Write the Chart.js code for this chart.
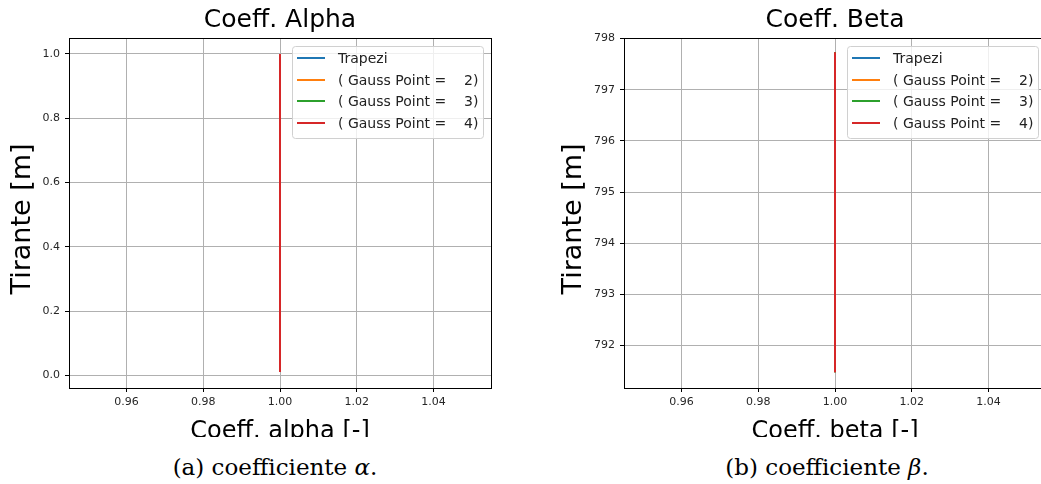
<!DOCTYPE html>
<html>
<head>
<meta charset="utf-8">
<script src="https://cdn.jsdelivr.net/npm/chart.js@4.4.1/dist/chart.umd.min.js"></script>
<style>
body { margin: 0; background: #fff; width: 1041px; height: 484px; overflow: hidden; position: relative; }
.panel { position: absolute; top: 0; height: 437px; overflow: hidden; }
.panel canvas { display: block; }
.caption { position: absolute; top: 456px; width: 400px; text-align: center; font-family: "DejaVu Serif", serif; font-size: 23px; line-height: 1; color: #000; }
</style>
</head>
<body>
<div class="panel" style="left:0;width:500px"><canvas id="alphaChart" width="500" height="460"></canvas></div>
<div class="panel" style="left:540px;width:501px"><canvas id="betaChart" width="510" height="460"></canvas></div>
<div class="caption" style="left:75px">(a) coefficiente <i>α</i>.</div>
<div class="caption" style="left:627px">(b) coefficiente <i>β</i>.</div>
<script>
// Series shared by both panels
const seriesLabels = ["Trapezi", "( Gauss Point =    2)", "( Gauss Point =    3)", "( Gauss Point =    4)"];
const seriesColors = ["#1f77b4", "#ff7f0e", "#2ca02c", "#d62728"];

// Coeff. Alpha panel
const tiranteAlpha = [0.01, 0.2, 0.4, 0.6, 0.8, 1.0];
const alphaTrapezi = [1.0, 1.0, 1.0, 1.0, 1.0, 1.0];
const alphaGauss2 = [1.0, 1.0, 1.0, 1.0, 1.0, 1.0];
const alphaGauss3 = [1.0, 1.0, 1.0, 1.0, 1.0, 1.0];
const alphaGauss4 = [1.0, 1.0, 1.0, 1.0, 1.0, 1.0];
const alphaXTicks = [0.96, 0.98, 1.00, 1.02, 1.04];
const alphaYTicks = [0.0, 0.2, 0.4, 0.6, 0.8, 1.0];

// Coeff. Beta panel
const tiranteBeta = [791.48, 792.5, 793.5, 794.5, 795.5, 796.5, 797.73];
const betaTrapezi = [1.0, 1.0, 1.0, 1.0, 1.0, 1.0, 1.0];
const betaGauss2 = [1.0, 1.0, 1.0, 1.0, 1.0, 1.0, 1.0];
const betaGauss3 = [1.0, 1.0, 1.0, 1.0, 1.0, 1.0, 1.0];
const betaGauss4 = [1.0, 1.0, 1.0, 1.0, 1.0, 1.0, 1.0];
const betaXTicks = [0.96, 0.98, 1.00, 1.02, 1.04];
const betaYTicks = [792, 793, 794, 795, 796, 797, 798];

Chart.defaults.font.family = "'DejaVu Sans', sans-serif";

// same rounding Chart.js uses for 1px lines
const crisp = p => Math.round(p - 0.5) + 0.5;

// Legend drawn inside the plot, upper right (matplotlib style)
const insideLegend = {
    id: "insideLegend",
    afterDatasetsDraw(chart) {
        const ctx = chart.ctx;
        const area = chart.chartArea;
        const sets = chart.data.datasets;
        ctx.save();
        ctx.font = "14px 'DejaVu Sans'";
        const textW = Math.max(...sets.map(d => ctx.measureText(d.label).width));
        const w = Math.round(5 + 28 + 13 + textW + 5);
        const h = 92;
        const x0 = Math.round(area.right - 8 - w);
        const y0 = Math.round(area.top + 8);

        ctx.beginPath();
        ctx.roundRect(x0 + 0.5, y0 + 0.5, w, h, 3);
        ctx.fillStyle = "rgba(255,255,255,0.8)";
        ctx.fill();
        ctx.strokeStyle = "#d0d0d0";
        ctx.lineWidth = 1;
        ctx.stroke();

        sets.forEach((d, i) => {
            const y = Math.round(y0 + 12 + i * 21.7);
            ctx.strokeStyle = d.borderColor;
            ctx.lineWidth = 2;
            ctx.beginPath();
            ctx.moveTo(x0 + 5, y);
            ctx.lineTo(x0 + 33, y);
            ctx.stroke();
            ctx.fillStyle = "#222";
            ctx.textBaseline = "middle";
            ctx.fillText(d.label, x0 + 46, y + 1);
        });
        ctx.restore();
    }
};

// Black box round the plot area + the rotated y title
const frameBox = {
    id: "frameBox",
    afterDatasetsDraw(chart, args, opts) {
        const { ctx, chartArea: a } = chart;
        ctx.save();
        ctx.strokeStyle = "#000";
        ctx.lineWidth = 1;
        const l = crisp(a.left), t = crisp(a.top), r = crisp(a.right), b = crisp(a.bottom);
        ctx.strokeRect(l, t, r - l, b - t);

        // y axis title
        ctx.translate(opts.yTitleX, (a.top + a.bottom) / 2 + opts.yTitleShift);
        ctx.rotate(-Math.PI / 2);
        ctx.font = opts.yTitleSize + "px 'DejaVu Sans'";
        ctx.fillStyle = "#000";
        ctx.textAlign = "center";
        ctx.textBaseline = "middle";
        ctx.fillText(opts.yTitle, 0, 0);
        ctx.restore();
    }
};

function buildDatasets(tirante, seriesList) {
    return seriesList.map((values, i) => ({
        label: seriesLabels[i],
        data: values.map((v, k) => ({ x: v, y: tirante[k] })),
        borderColor: seriesColors[i],
        backgroundColor: seriesColors[i],
        borderWidth: 2,
        pointRadius: 0,
        showLine: true,
        fill: false,
        order: seriesList.length - 1 - i,
    }));
}

function axisOptions(o) {
    return {
        type: "linear",
        min: o.min,
        max: o.max,
        afterBuildTicks: s => { s.ticks = o.ticks.map(v => ({ value: v })); },
        afterFit: s => {
            if (o.width) s.width = o.width;
            if (o.height) s.height = o.height;
        },
        ticks: {
            font: { size: 11 },
            color: "#262626",
            padding: o.tickPad,
            autoSkip: false,
            maxRotation: 0,
            callback: v => Number(v).toFixed(o.digits),
        },
        grid: { color: "#b0b0b0", lineWidth: 1, tickColor: "#000", tickLength: 4 },
        border: { color: "#000", width: 1 },
        title: {
            display: !!o.title,
            text: o.title || "",
            color: "#000",
            font: { size: o.titleSize },
            padding: o.titlePad,
        },
    };
}

function makeChart(id, cfg) {
    const ctx = document.getElementById(id).getContext("2d");
    return new Chart(ctx, {
        type: "scatter",
        data: { datasets: buildDatasets(cfg.tirante, cfg.series) },
        options: {
            responsive: false,
            animation: false,
            devicePixelRatio: 1,
            layout: { padding: { left: 0, right: cfg.padRight, top: 0, bottom: 0 } },
            plugins: {
                legend: { display: false },
                tooltip: { enabled: false },
                title: {
                    display: true,
                    text: cfg.title,
                    fullSize: false,
                    color: "#000",
                    font: { size: 25, weight: "normal" },
                    padding: { top: 5, bottom: 3 },
                },
                frameBox: {
                    yTitle: "Tirante [m]",
                    yTitleSize: 27,
                    yTitleX: cfg.yTitleX,
                    yTitleShift: 6,
                },
            },
            scales: {
                x: axisOptions({
                    min: 0.945, max: 1.055, ticks: cfg.xTicks, digits: 2,
                    height: 72, tickPad: 4,
                    title: cfg.xTitle, titleSize: 24, titlePad: { top: 0, bottom: 14 },
                }),
                y: axisOptions({
                    min: cfg.yMin, max: cfg.yMax, ticks: cfg.yTicks, digits: cfg.yDigits,
                    width: cfg.yWidth, tickPad: 5,
                }),
            },
        },
        plugins: [frameBox, insideLegend],
    });
}

makeChart("alphaChart", {
    title: "Coeff. Alpha",
    xTitle: "Coeff. alpha [-]",
    tirante: tiranteAlpha,
    series: [alphaTrapezi, alphaGauss2, alphaGauss3, alphaGauss4],
    xTicks: alphaXTicks,
    yTicks: alphaYTicks,
    yMin: -0.0395, yMax: 1.0495, yDigits: 1,
    yWidth: 69, yTitleX: 23, padRight: 9,
});

makeChart("betaChart", {
    title: "Coeff. Beta",
    xTitle: "Coeff. beta [-]",
    tirante: tiranteBeta,
    series: [betaTrapezi, betaGauss2, betaGauss3, betaGauss4],
    xTicks: betaXTicks,
    yTicks: betaYTicks,
    yMin: 791.17, yMax: 798.01, yDigits: 0,
    yWidth: 84, yTitleX: 34, padRight: 4,
});
</script>
</body>
</html>
